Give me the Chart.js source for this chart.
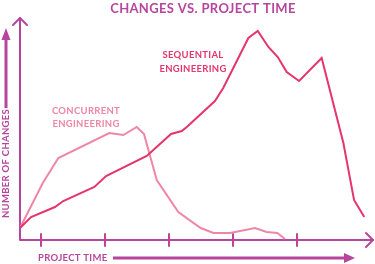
<!DOCTYPE html>
<html>
<head>
<meta charset="utf-8">
<script src="https://cdn.jsdelivr.net/npm/chart.js@4.4.1/dist/chart.umd.min.js"></script>
<style>
  html, body { margin: 0; padding: 0; background: #fff; }
  #wrap { width: 375px; height: 264px; }
</style>
</head>
<body>
<div id="wrap"><canvas id="chart" width="375" height="264"></canvas></div>
<script>
// project time (arbitrary units) and number of changes
const timeTicks = [1, 4, 7, 10, 13];

const seqTime = [0, 0.52, 1.64, 2.03, 3.49, 4.04, 5.95, 7.09, 7.59, 7.83, 9.15, 9.54, 10.72, 11.16, 11.66, 12.1, 12.52, 13.1, 14.16, 15.18, 15.68, 16.16];
const seqChanges = [12, 23, 33, 39, 53, 64, 84, 106, 109, 113, 139, 152, 202, 209, 193, 183, 168, 159, 182, 97, 40, 23];

const conTime = [0, 1.07, 1.8, 4.19, 4.85, 5.48, 5.82, 6.42, 7.43, 8.48, 9.08, 9.86, 11.03, 11.58, 12.08, 12.44];
const conChanges = [12, 57, 82, 107, 105, 113, 106, 60, 28, 12, 7, 7, 12, 8, 7, 1];

const purple = '#b8459d';
const seqColor = '#e5356a';
const conColor = '#ef86a6';
const font = 'Lato, "DejaVu Sans", sans-serif';

// axes, arrows and labels
const decorPlugin = {
    id: 'decor',
    beforeDatasetsDraw(chart) {
        const ctx = chart.ctx;
        const xs = chart.scales.x, ys = chart.scales.y;
        const x0 = xs.getPixelForValue(0);
        const y0 = ys.getPixelForValue(0);
        const xEnd = xs.getPixelForValue(xs.max);
        const yTop = ys.getPixelForValue(ys.max);
        ctx.save();
        ctx.strokeStyle = purple;
        ctx.lineWidth = 2;
        ctx.lineCap = 'round';
        ctx.lineJoin = 'round';
        ctx.beginPath();
        ctx.moveTo(x0, yTop);
        ctx.lineTo(x0, y0);
        ctx.lineTo(xEnd, y0);
        ctx.stroke();
        // arrow heads
        ctx.beginPath();
        ctx.moveTo(x0 - 7, yTop + 7);
        ctx.lineTo(x0, yTop);
        ctx.lineTo(x0 + 7, yTop + 7);
        ctx.moveTo(xEnd - 7, y0 - 7);
        ctx.lineTo(xEnd, y0);
        ctx.lineTo(xEnd - 7, y0 + 7);
        ctx.stroke();
        // ticks
        timeTicks.forEach(t => {
            const px = Math.round(xs.getPixelForValue(t));
            ctx.beginPath();
            ctx.moveTo(px, y0 - 6);
            ctx.lineTo(px, y0 + 6);
            ctx.stroke();
        });
        ctx.restore();
    },
    afterDraw(chart) {
        const ctx = chart.ctx;
        ctx.save();
        ctx.textBaseline = 'middle';

        // title
        ctx.fillStyle = purple;
        ctx.textAlign = 'center';
        ctx.font = 'bold 13px ' + font;
        ctx.letterSpacing = '0.35px';
        ctx.fillText('CHANGES VS. PROJECT TIME', 203, 9);

        // x label + arrow
        ctx.font = 'bold 9.5px ' + font;
        ctx.letterSpacing = '0.3px';
        ctx.textAlign = 'left';
        ctx.fillText('PROJECT TIME', 38, 258);
        ctx.fillRect(113, 256.5, 232, 3);
        ctx.beginPath();
        ctx.moveTo(344, 253);
        ctx.lineTo(355, 258);
        ctx.lineTo(344, 263);
        ctx.closePath();
        ctx.fill();

        // y label + arrow
        ctx.save();
        ctx.translate(6, 218);
        ctx.rotate(-Math.PI / 2);
        ctx.fillText('NUMBER OF CHANGES', 0, 0);
        ctx.restore();
        ctx.fillRect(4.5, 38, 3, 70);
        ctx.beginPath();
        ctx.moveTo(1.5, 40);
        ctx.lineTo(6, 28);
        ctx.lineTo(10.5, 40);
        ctx.closePath();
        ctx.fill();

        // series labels
        ctx.textAlign = 'center';
        ctx.font = 'bold 9.5px ' + font;
        ctx.fillStyle = seqColor;
        ctx.fillText('SEQUENTIAL', 193, 55);
        ctx.fillText('ENGINEERING', 193, 69);
        ctx.fillStyle = conColor;
        ctx.fillText('CONCURRENT', 86, 111);
        ctx.fillText('ENGINEERING', 86, 124);
        ctx.restore();
    }
};

new Chart(document.getElementById('chart').getContext('2d'), {
    type: 'line',
    data: {
        datasets: [{
            label: 'Sequential Engineering',
            data: seqTime.map((t, i) => ({x: t, y: seqChanges[i]})),
            borderColor: seqColor,
            borderWidth: 2,
            pointRadius: 0,
            tension: 0,
            fill: false
        }, {
            label: 'Concurrent Engineering',
            data: conTime.map((t, i) => ({x: t, y: conChanges[i]})),
            borderColor: conColor,
            borderWidth: 2,
            pointRadius: 0,
            tension: 0,
            fill: false
        }]
    },
    options: {
        responsive: false,
        animation: false,
        layout: { padding: { left: 20, top: 18, right: 2, bottom: 24 } },
        scales: {
            x: { type: 'linear', min: 0, max: 16.57, display: false },
            y: { min: 0, max: 222, display: false }
        },
        plugins: {
            legend: { display: false },
            tooltip: { enabled: false }
        }
    },
    plugins: [decorPlugin]
});
</script>
</body>
</html>
